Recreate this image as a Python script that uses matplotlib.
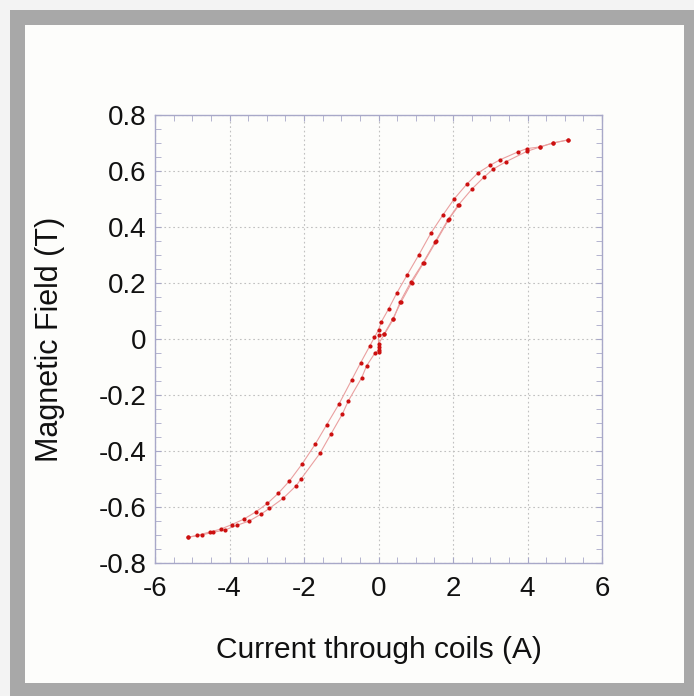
import matplotlib
matplotlib.use("Agg")
import matplotlib.pyplot as plt
from matplotlib.patches import Rectangle
from matplotlib.ticker import MultipleLocator

plt.rcParams['font.family'] = ['Liberation Sans', 'DejaVu Sans']

# Descending branch (from +5 A to -5 A)
desc_current = [5.09, 4.68, 4.34, 3.98, 3.74, 3.26, 2.99, 2.67, 2.37, 2.03, 1.73, 1.41,
                1.08, 0.77, 0.49, 0.27, 0.07, 0.0, -0.11, -0.23, -0.48, -0.72, -1.06,
                -1.39, -1.70, -2.05, -2.39, -2.69, -2.98, -3.29, -3.61, -3.94, -4.24,
                -4.52, -4.86, -5.11]
desc_field = [0.711, 0.700, 0.686, 0.680, 0.668, 0.640, 0.620, 0.593, 0.553, 0.500, 0.443,
              0.379, 0.300, 0.229, 0.164, 0.107, 0.060, 0.032, 0.006, -0.024, -0.085,
              -0.146, -0.232, -0.306, -0.376, -0.446, -0.507, -0.551, -0.587, -0.617,
              -0.643, -0.663, -0.679, -0.689, -0.701, -0.708]

# Ascending branch (from -5 A to +5 A)
asc_current = [-5.11, -4.75, -4.43, -4.12, -3.79, -3.47, -3.16, -2.93, -2.56, -2.21,
               -2.08, -1.57, -1.28, -0.97, -0.81, -0.45, -0.32, -0.09, 0.0, 0.0, 0.16,
               0.40, 0.58, 0.87, 1.19, 1.52, 1.86, 2.14, 2.51, 2.83, 3.08, 3.42, 3.98,
               4.34, 4.68, 5.09]
asc_field = [-0.708, -0.700, -0.690, -0.682, -0.665, -0.650, -0.626, -0.605, -0.569,
             -0.524, -0.500, -0.408, -0.340, -0.268, -0.221, -0.138, -0.096, -0.049,
             -0.040, -0.017, 0.017, 0.071, 0.133, 0.204, 0.271, 0.347, 0.425, 0.478,
             0.536, 0.578, 0.607, 0.633, 0.670, 0.686, 0.700, 0.711]

# Initial magnetisation curve (from 0 A upward)
init_current = [0.0, 0.0, 0.0, 0.15, 0.38, 0.61, 0.89, 1.21, 1.55, 1.89, 2.17]
init_field = [-0.046, -0.029, 0.013, 0.018, 0.071, 0.133, 0.201, 0.272, 0.349, 0.428, 0.480]

x_ticks = [-6, -4, -2, 0, 2, 4, 6]
y_ticks = [-0.8, -0.6, -0.4, -0.2, 0, 0.2, 0.4, 0.6, 0.8]
y_tick_labels = ['-0.8', '-0.6', '-0.4', '-0.2', '0', '0.2', '0.4', '0.6', '0.8']

fig = plt.figure(figsize=(6.94, 6.96), dpi=100)
fig.patch.set_facecolor('#f3f3f3')
# gray frame and white inner panel
fig.patches.append(Rectangle((10/694, 0), 684/694, 686/696, transform=fig.transFigure,
                             facecolor='#a8a8a8', edgecolor='none', zorder=-10))
fig.patches.append(Rectangle((25/694, 13/696), 659/694, 658/696, transform=fig.transFigure,
                             facecolor='#fdfdfb', edgecolor='none', zorder=-9))

ax = fig.add_axes([155/694, 1 - 563/696, 447/694, 448/696])
ax.set_zorder(5)
ax.set_facecolor('#fdfdfb')

line_kw = dict(color='#eaa0a0', lw=0.8, zorder=2)
mk_kw = dict(color='#cc1010', s=9, zorder=3, linewidths=0)
for xs, ys in [(desc_current, desc_field), (asc_current, asc_field), (init_current, init_field)]:
    ax.plot(xs, ys, **line_kw)
    ax.scatter(xs, ys, **mk_kw)

ax.set_xlim(-6, 6)
ax.set_ylim(-0.8, 0.8)
ax.set_xticks(x_ticks)
ax.set_xticklabels([str(t) for t in x_ticks])
ax.set_yticks(y_ticks)
ax.set_yticklabels(y_tick_labels)
ax.xaxis.set_minor_locator(MultipleLocator(0.5))
ax.yaxis.set_minor_locator(MultipleLocator(0.05))

spine_c = '#a8a8c8'
for s in ax.spines.values():
    s.set_color(spine_c)
    s.set_linewidth(1.0)
ax.tick_params(which='both', direction='in', top=True, right=True, color=spine_c,
               labelsize=20, labelcolor='#111111')
ax.tick_params(which='major', length=4, pad=6)
ax.tick_params(axis='x', which='major', pad=9)
ax.tick_params(which='minor', length=4)
ax.grid(True, which='major', color='#c0c0c0', linestyle=(0, (1.5, 2.5)), linewidth=0.8)
ax.set_axisbelow(True)

ax.set_xlabel('Current through coils (A)', fontsize=21.5, labelpad=25, color='#111111')
ax.set_ylabel('Magnetic Field (T)', fontsize=22, labelpad=24, color='#111111')

fig.savefig('out.png', dpi=100, facecolor=fig.get_facecolor())
